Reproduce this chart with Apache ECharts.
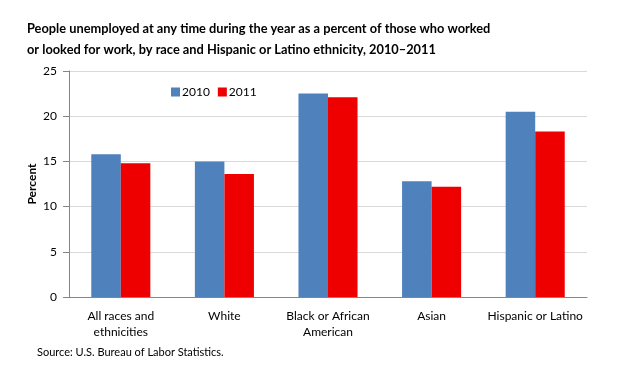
<!DOCTYPE html>
<html><head><meta charset="utf-8">
<script src="https://cdn.jsdelivr.net/npm/echarts@6/dist/echarts.min.js"></script>
<style>html,body{margin:0;padding:0;background:#fff}#c{width:625px;height:368px}</style>
</head><body><div id="c"></div>
<script>
const categories = ["All races and\nethnicities", "White", "Black or African\nAmerican", "Asian", "Hispanic or Latino"];
const values2010 = [15.8, 15.0, 22.5, 12.8, 20.5];
const values2011 = [14.8, 13.6, 22.1, 12.2, 18.3];
const seriesNames = ["2010", "2011"];
const yTicks = { min: 0, max: 25, interval: 5 };
const titleText = "People unemployed at any time during the year as a percent of those who worked\nor looked for work, by race and Hispanic or Latino ethnicity, 2010\u20132011";
const sourceText = "Source: U.S. Bureau of Labor Statistics.";

const chart = echarts.init(document.getElementById('c'));
const font = "Lato, 'Open Sans', sans-serif";
chart.setOption({
  animation: false,
  title: [{
    text: titleText, left: 27, top: 18, padding: 0,
    textStyle: { fontFamily: font, fontSize: 12.8, fontWeight: 'bold', color: '#000', lineHeight: 21 }
  }, {
    text: sourceText, left: 37, top: 347, padding: 0,
    textStyle: { fontFamily: font, fontSize: 11, fontWeight: 'normal', color: '#000' }
  }],
  legend: {
    left: 166, top: 81, itemWidth: 9, itemHeight: 9, itemGap: 8, icon: 'rect',
    textStyle: { fontFamily: font, fontSize: 12, color: '#000', padding: [0,0,0,-3] },
    data: seriesNames
  },
  grid: { left: 69, right: 38, top: 71, bottom: 71 },
  xAxis: {
    type: 'category', data: categories,
    axisLine: { lineStyle: { color: '#868686' } },
    axisTick: { show: false },
    axisLabel: { fontFamily: font, fontSize: 12, color: '#000', margin: 11, lineHeight: 16, interval: 0 }
  },
  yAxis: {
    type: 'value', min: yTicks.min, max: yTicks.max, interval: yTicks.interval,
    name: 'Percent', nameLocation: 'middle', nameGap: 31, nameRotate: 90, nameMoveOverlap: false,
    nameTextStyle: { fontFamily: font, fontSize: 12, fontWeight: 'bold', color: '#000' },
    axisLine: { show: true, lineStyle: { color: '#868686' } },
    axisTick: { show: true, length: 6, inside: false, lineStyle: { color: '#868686' } },
    axisLabel: { fontFamily: font, fontSize: 12, color: '#000', margin: 12 },
    splitLine: { lineStyle: { color: '#d9d9d9' } }
  },
  series: [{
    name: seriesNames[0], type: 'bar', data: values2010, barGap: '0%', barCategoryGap: '43%',
    itemStyle: { color: '#4F81BD' }
  }, {
    name: seriesNames[1], type: 'bar', data: values2011, barGap: '0%', barCategoryGap: '43%',
    itemStyle: { color: '#EE0000' }
  }]
});
</script></body></html>
